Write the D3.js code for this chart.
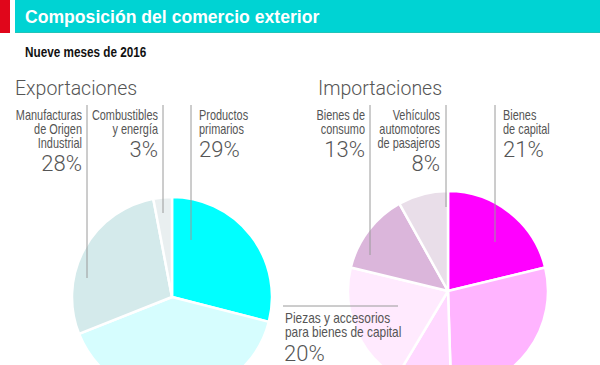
<!DOCTYPE html>
<head>
    <meta charset="utf-8">
    <script src="https://d3js.org/d3.v7.min.js"></script>
</head>
<style>
    body { margin: 0; background: #fff; }
    .lbl { font-family: "Liberation Sans", Arial, sans-serif; font-size: 14px; fill: #555; }
    .pct { font-family: "Roboto", "Lato", sans-serif; font-weight: 300; font-size: 22px; fill: #555; }
    .head { font-family: "Roboto", "Lato", sans-serif; font-weight: 300; font-size: 19.5px; fill: #555; }
</style>
<body>
    <div id="chart"></div>
</body>

<script>
    // Exportaciones, clockwise from 12 o'clock
    const expNames = ["Productos primarios", "Manufacturas de Origen Agropecuario", "Manufacturas de Origen Industrial", "Combustibles y energía"];
    const expValues = [29, 40, 28, 3];
    const expColors = ["#00ffff", "#d6fdfe", "#d4eaeb", "#e9eff0"];

    // Importaciones, clockwise from 12 o'clock
    const impNames = ["Bienes de capital", "Bienes intermedios", "Combustibles y lubricantes", "Piezas y accesorios para bienes de capital", "Bienes de consumo", "Vehículos automotores de pasajeros"];
    const impValues = [21, 28, 9, 20, 13, 8];
    const impColors = ["#ff00ff", "#ffb4ff", "#ffd8ff", "#ffeafe", "#dbb6db", "#e9dee9"];

    const width = 600, height = 365;

    const svg = d3.select("#chart")
        .append("svg")
        .attr("width", width)
        .attr("height", height);

    // narrow text: squeeze horizontally to mimic a condensed face
    function narrowText(x, y, txt, cls, anchor, sx) {
        return svg.append("text")
            .attr("class", cls)
            .attr("transform", `translate(${x},${y}) scale(${sx},1)`)
            .attr("text-anchor", anchor)
            .text(txt);
    }

    // header band
    svg.append("rect").attr("x", 0).attr("y", 0).attr("width", 10).attr("height", 33).attr("fill", "#e0061b");
    svg.append("rect").attr("x", 15).attr("y", 0).attr("width", 585).attr("height", 33).attr("fill", "#00d3d3");
    svg.append("rect").attr("x", 15).attr("y", 32).attr("width", 585).attr("height", 1).attr("fill", "#21c4b8");
    svg.append("text")
        .attr("x", 25).attr("y", 23)
        .style("font-family", "'Liberation Sans', Arial, sans-serif")
        .style("font-weight", "bold")
        .style("font-size", "17.6px")
        .style("fill", "#fff")
        .text("Composición del comercio exterior");
    narrowText(25, 57, "Nueve meses de 2016", null, "start", 0.84)
        .style("font-family", "'Liberation Sans', Arial, sans-serif")
        .style("font-weight", "bold")
        .style("font-size", "14px")
        .style("fill", "#111");

    const radius = 100;
    const arc = d3.arc().innerRadius(0).outerRadius(radius);
    const pie = d3.pie().sort(null).value(d => d);

    function drawPie(cx, cy, values, colors) {
        const g = svg.append("g").attr("transform", `translate(${cx},${cy})`);
        g.selectAll("path")
            .data(pie(values))
            .join("path")
            .attr("d", arc)
            .attr("fill", (d, i) => colors[i])
            .attr("stroke", "#fff")
            .attr("stroke-width", 2.5)
            .attr("stroke-linejoin", "round");
        return g;
    }

    drawPie(172, 297, expValues, expColors);
    drawPie(448, 291, impValues, impColors);

    svg.append("text").attr("class", "head").attr("x", 15).attr("y", 95).text("Exportaciones");
    svg.append("text").attr("class", "head").attr("x", 318).attr("y", 95).text("Importaciones");

    // labels with leader lines
    const labels = [
        {lines: ["Manufacturas", "de Origen", "Industrial"], pct: "28%", x: 82, anchor: "end", pctY: 171, lx: 87, ly2: 278},
        {lines: ["Combustibles", "y energía"], pct: "3%", x: 158, anchor: "end", pctY: 157, lx: 163, ly2: 213},
        {lines: ["Productos", "primarios"], pct: "29%", x: 199, anchor: "start", pctY: 157, lx: 191, ly2: 240},
        {lines: ["Bienes de", "consumo"], pct: "13%", x: 365, anchor: "end", pctY: 157, lx: 370, ly2: 255},
        {lines: ["Vehículos", "automotores", "de pasajeros"], pct: "8%", x: 440, anchor: "end", pctY: 171, lx: 446, ly2: 207},
        {lines: ["Bienes", "de capital"], pct: "21%", x: 503, anchor: "start", pctY: 157, lx: 495, ly2: 242}
    ];

    labels.forEach(l => {
        svg.append("line")
            .attr("x1", l.lx).attr("x2", l.lx)
            .attr("y1", 105).attr("y2", l.ly2)
            .attr("stroke", "#9a9a9a").attr("stroke-width", 1);
        l.lines.forEach((t, i) => {
            narrowText(l.x, 120 + i * 14, t, "lbl", l.anchor, 0.78);
        });
        svg.append("text").attr("class", "pct")
            .attr("x", l.x).attr("y", l.pctY)
            .attr("text-anchor", l.anchor)
            .text(l.pct);
    });

    // Piezas label
    svg.append("line")
        .attr("x1", 283).attr("x2", 398)
        .attr("y1", 306).attr("y2", 306)
        .attr("stroke", "#9a9a9a").attr("stroke-width", 1);
    ["Piezas y accesorios", "para bienes de capital"].forEach((t, i) => {
        narrowText(285, 323 + i * 14, t, "lbl", "start", 0.85);
    });
    svg.append("text").attr("class", "pct")
        .attr("x", 284).attr("y", 361)
        .text("20%");
</script>
